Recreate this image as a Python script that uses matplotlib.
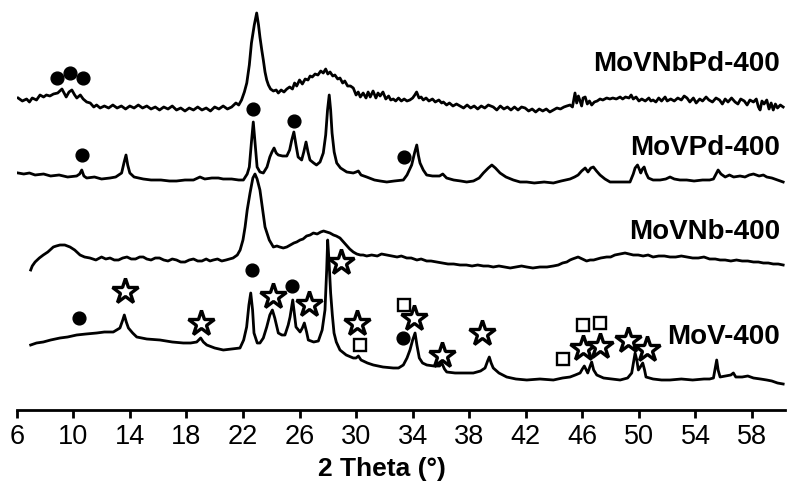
import matplotlib
matplotlib.use("Agg")
import matplotlib.pyplot as plt

# ---------------- data (2 theta in degrees, intensity in a.u.) ----------------
movnbpd_x = [6.1, 6.4, 6.7, 6.9, 7.1, 7.4, 7.65, 7.9, 8.1, 8.35, 8.6, 8.9, 9.2, 9.35, 9.5, 9.7, 9.9, 10.1,
             10.25, 10.5, 10.7, 10.95, 11.2, 11.45, 11.65, 11.9, 12.2, 12.5, 12.8, 13.1, 13.4, 13.7, 14.0,
             14.3, 14.6, 14.9, 15.2, 15.5, 15.8, 16.1, 16.4, 16.7, 17.0, 17.3, 17.6, 17.9, 18.2, 18.5,
             18.8, 19.1, 19.4, 19.7, 20.0, 20.3, 20.6, 20.9, 21.2, 21.5, 21.7, 21.9, 22.1, 22.27, 22.45,
             22.6, 22.8, 22.97, 23.1, 23.2, 23.33, 23.44, 23.56, 23.68, 23.8, 23.95, 24.15, 24.35, 24.5,
             24.7, 24.9, 25.1, 25.3, 25.5, 25.65, 25.8, 26.0, 26.2, 26.4, 26.6, 26.75, 26.9, 27.1, 27.3,
             27.5, 27.68, 27.85, 28.0, 28.16, 28.35, 28.5, 28.7, 28.86, 29.05, 29.2, 29.4, 29.6, 29.8,
             30.0, 30.15, 30.3, 30.5, 30.7, 30.85, 31.0, 31.2, 31.4, 31.55, 31.7, 31.9, 32.1, 32.3, 32.45,
             32.63, 32.8, 33.0, 33.2, 33.4, 33.6, 33.8, 34.0, 34.15, 34.28, 34.45, 34.6, 34.75, 34.95,
             35.15, 35.4, 35.6, 35.85, 36.05, 36.17, 36.4, 36.6, 36.85, 37.1, 37.35, 37.6, 37.85, 38.1,
             38.35, 38.6, 38.85, 39.1, 39.35, 39.7, 39.95, 40.2, 40.45, 40.7, 40.95, 41.2, 41.45, 41.7,
             41.95, 42.2, 42.45, 42.7, 42.95, 43.2, 43.45, 43.7, 43.95, 44.2, 44.45, 44.7, 44.9, 45.13,
             45.3, 45.48, 45.6, 45.72, 45.84, 45.95, 46.05, 46.2, 46.35, 46.5, 46.66, 46.85, 47.05, 47.25,
             47.45, 47.72, 47.95, 48.15, 48.4, 48.67, 48.85, 49.05, 49.3, 49.45, 49.6, 49.8, 50.0, 50.2,
             50.45, 50.7, 50.85, 51.0, 51.2, 51.4, 51.6, 51.85, 52.0, 52.25, 52.5, 52.75, 53.0, 53.2,
             53.4, 53.6, 53.85, 54.05, 54.3, 54.5, 54.75, 54.95, 55.2, 55.45, 55.7, 55.9, 56.1, 56.3,
             56.55, 56.8, 57.0, 57.2, 57.45, 57.65, 57.85, 58.1, 58.3, 58.45, 58.57, 58.7, 58.85, 59.04,
             59.2, 59.35, 59.5, 59.65, 59.8, 60.0, 60.2]
movnbpd_y = [312, 309, 311, 308, 312, 310, 315, 313, 315, 314, 316, 317, 321, 317, 313, 318, 320, 315,
             312, 315, 311, 308, 307, 303, 305, 302, 304, 302, 305, 302, 304, 301, 304,
             302, 305, 302, 304, 301, 303, 300, 303, 301, 304, 300, 302, 299, 302, 300,
             303, 300, 302, 299, 303, 301, 304, 301, 303, 307, 305, 310, 318, 327, 345,
             367, 385, 397, 385, 373, 360, 350, 338, 330, 325, 321, 319, 320, 317,
             320, 318, 321, 323, 321, 327, 324, 330, 326, 331, 330, 334, 333, 336, 335,
             339, 337, 341, 336, 338, 334, 335, 331, 332, 327, 329, 324, 324, 322,
             315, 318, 313, 317, 312, 318, 313, 319, 312, 317, 314, 318, 311, 314, 310,
             311, 309, 312, 309, 311, 309, 310, 312, 315, 318, 312, 313, 310, 312,
             309, 311, 308, 310, 307, 308, 305, 307, 304, 306, 304, 302, 305, 302,
             304, 301, 304, 302, 305, 303, 300, 304, 301, 303, 300, 303, 300, 303,
             302, 299, 301, 298, 301, 299, 301, 298, 300, 302, 301, 303, 304, 305,
             303, 317, 307, 314, 309, 304, 312, 313, 306, 309, 305, 308, 309, 311,
             310, 312, 311, 312, 311, 313, 311, 313, 312, 315, 311, 313, 309, 311,
             309, 312, 309, 310, 308, 312, 309, 313, 309, 311, 309, 312, 310, 314,
             312, 308, 312, 307, 311, 309, 313, 310, 308, 312, 310, 306, 311, 308,
             312, 308, 306, 311, 309, 305, 310, 308, 311, 303, 300, 309, 306, 310,
             301, 307, 300, 306, 302, 305, 303]

movpd_x = [6.1, 6.5, 6.9, 7.3, 7.9, 8.4, 9.0, 9.6, 10.24, 10.45, 10.6, 10.75, 10.95, 11.5, 12.0, 12.6,
           13.0, 13.42, 13.6, 13.73, 13.85, 14.0, 14.3, 14.95, 15.5, 16.2, 16.8, 17.3, 17.9, 18.5,
           18.96, 19.3, 19.8, 20.26, 20.6, 21.2, 21.7, 22.03, 22.3, 22.45, 22.6, 22.73, 22.85, 23.0,
           23.2, 23.44, 23.7, 23.9, 24.05, 24.2, 24.35, 24.5, 24.8, 25.1, 25.3, 25.45, 25.6, 25.75,
           25.9, 26.15, 26.3, 26.46, 26.6, 26.74, 27.0, 27.2, 27.45, 27.68, 27.85, 27.98, 28.1, 28.2,
           28.3, 28.45, 28.63, 28.9, 29.34, 29.8, 30.0, 30.16, 30.35, 30.75, 31.3, 31.7, 32.17, 32.7,
           33.34, 33.6, 33.93, 34.15, 34.29, 34.4, 34.52, 34.75, 34.99, 35.4, 35.9, 36.13, 36.4, 36.9,
           37.4, 37.82, 38.3, 38.7, 39.0, 39.35, 39.6, 39.85, 40.18, 40.6, 41.12, 41.6, 42.07, 42.6,
           43.3, 43.95, 44.5, 45.13, 45.45, 45.7, 45.95, 46.2, 46.4, 46.6, 46.78, 47.0, 47.25, 47.6,
           47.96, 48.6, 49.37, 49.6, 49.73, 49.9, 50.05, 50.13, 50.25, 50.37, 50.5, 50.67, 51.0, 51.5,
           51.9, 52.2, 52.5, 52.9, 53.38, 53.9, 54.5, 55.0, 55.27, 55.45, 55.6, 55.8, 56.1, 56.4, 56.7,
           57.15, 57.5, 57.8, 58.1, 58.5, 58.8, 59.04, 59.4, 59.8, 60.2]
movpd_y = [237, 236, 237, 235, 236, 234, 235, 233, 234, 236, 240, 234, 232, 233, 231, 232,
           233, 237, 248, 255, 245, 237, 233, 231, 230, 230, 229, 229, 230, 230,
           233, 231, 232, 232, 231, 231, 230, 230, 236, 243, 268, 288, 268, 243,
           238, 237, 243, 253, 258, 262, 257, 255, 254, 254, 260, 270, 278, 265,
           253, 250, 258, 268, 258, 250, 247, 245, 248, 257, 275, 300, 315, 300,
           277, 258, 247, 242, 238, 237, 238, 239, 235, 233, 230, 229, 228, 229,
           230, 235, 245, 258, 265, 255, 247, 240, 235, 234, 234, 236, 232, 230,
           229, 228, 229, 232, 237, 242, 245, 242, 237, 233, 230, 228, 228, 227,
           228, 227, 229, 231, 233, 235, 239, 242, 238, 242, 243, 239, 235, 231,
           228, 228, 228, 236, 242, 245, 240, 237, 241, 243, 237, 232, 230, 230,
           231, 233, 231, 230, 230, 229, 230, 230, 231, 236, 240, 236, 233, 235, 233,
           234, 233, 235, 236, 234, 235, 233, 232, 230, 228]

movnb_x = [6.99, 7.1, 7.3, 7.6, 7.88, 8.2, 8.59, 8.8, 9.06, 9.4, 9.77, 10.1, 10.48, 10.8, 11.18, 11.6,
           12.0, 12.3, 12.6, 12.9, 13.2, 13.5, 13.8, 14.1, 14.4, 14.7, 14.95, 15.2, 15.5, 15.8, 16.1,
           16.4, 16.7, 17.0, 17.3, 17.6, 17.9, 18.2, 18.5, 18.8, 19.1, 19.4, 19.67, 19.9, 20.2, 20.5,
           20.8, 21.05, 21.3, 21.6, 21.8, 22.0, 22.15, 22.3, 22.5, 22.7, 22.85, 23.0, 23.2, 23.44,
           23.56, 23.86, 24.15, 24.4, 24.6, 24.85, 25.1, 25.35, 25.6, 25.8, 26.04, 26.25, 26.5, 26.75,
           26.98, 27.25, 27.5, 27.7, 27.92, 28.15, 28.4, 28.6, 28.86, 29.05, 29.3, 29.55, 29.8, 30.05,
           30.3, 30.5, 30.75, 31.1, 31.5, 31.8, 32.17, 32.5, 32.9, 33.2, 33.58, 33.9, 34.3, 34.6,
           34.99, 35.3, 35.7, 36.1, 36.5, 36.9, 37.35, 37.8, 38.2, 38.6, 39.0, 39.35, 39.7, 40.1,
           40.5, 40.9, 41.3, 41.7, 42.07, 42.5, 43.0, 43.5, 43.95, 44.3, 44.6, 44.9, 45.13, 45.3,
           45.5, 45.7, 46.0, 46.3, 46.55, 46.8, 47.05, 47.3, 47.72, 48.0, 48.3, 48.65, 49.02, 49.3,
           49.6, 49.95, 50.3, 50.65, 51.0, 51.4, 51.8, 52.2, 52.6, 53.0, 53.38, 53.8, 54.2, 54.6,
           55.0, 55.4, 55.74, 56.1, 56.5, 56.9, 57.3, 57.7, 58.1, 58.45, 58.8, 59.15, 59.5, 59.85, 60.2]
movnb_y = [140, 144, 148, 152, 155, 158, 163, 164, 165, 165, 163, 160, 155, 153, 152, 150,
           153, 151, 152, 150, 150, 152, 153, 151, 151, 153, 153, 151, 150, 152, 152,
           150, 149, 151, 150, 148, 148, 150, 151, 149, 149, 151, 149, 150, 151, 149,
           150, 151, 152, 155, 160, 170, 183, 200, 217, 232, 236, 231, 220, 195,
           183, 170, 163, 164, 163, 162, 163, 165, 167, 168, 170, 171, 174, 175,
           177, 176, 178, 179, 178, 177, 175, 174, 172, 169, 165, 161, 158, 156,
           155, 155, 154, 155, 154, 156, 155, 154, 153, 154, 152, 152, 150, 151,
           149, 149, 148, 147, 146, 146, 145, 145, 144, 145, 144, 144, 143, 144,
           143, 142, 143, 144, 143, 142, 143, 143, 144, 145, 147, 148, 150, 151,
           152, 153, 151, 149, 150, 150, 151, 152, 153, 153, 155, 156, 157, 156,
           155, 155, 154, 155, 153, 154, 154, 153, 153, 154, 153, 152, 152, 153,
           151, 151, 150, 150, 149, 150, 149, 149, 148, 148, 147, 147, 146, 146, 145]

mov_x = [6.99, 7.4, 7.88, 8.4, 9.06, 9.6, 10.24, 10.9, 11.66, 12.2, 12.83, 13.3, 13.5, 13.61, 13.75,
         13.9, 14.2, 14.49, 15.2, 16.13, 17.0, 17.78, 18.3, 18.73, 19.01, 19.2, 19.44, 20.0, 20.61,
         21.2, 21.79, 22.05, 22.26, 22.42, 22.55, 22.68, 22.78, 23.01, 23.2, 23.44, 23.68, 23.9,
         24.08, 24.25, 24.5, 24.75, 24.97, 25.2, 25.33, 25.52, 25.65, 25.75, 26.04, 26.2, 26.34,
         26.5, 26.62, 27.0, 27.33, 27.6, 27.8, 27.92, 27.99, 28.08, 28.2, 28.32, 28.44, 28.6, 28.86,
         29.3, 29.8, 30.0, 30.16, 30.35, 30.8, 31.22, 31.9, 32.63, 33.0, 33.34, 33.6, 33.81, 34.0,
         34.17, 34.3, 34.47, 34.7, 35.0, 35.5, 35.9, 36.06, 36.25, 36.41, 37.0, 37.6, 38.29, 38.8,
         39.12, 39.3, 39.42, 39.55, 39.7, 40.1, 40.65, 41.3, 42.07, 43.0, 43.95, 44.6, 45.13, 45.5,
         45.84, 46.0, 46.14, 46.28, 46.38, 46.55, 46.66, 46.8, 47.02, 47.5, 48.1, 48.67, 49.2, 49.49,
         49.62, 49.73, 49.85, 49.96, 50.1, 50.27, 50.4, 50.5, 51.0, 51.6, 52.2, 53.0, 53.8, 54.6,
         55.0, 55.27, 55.4, 55.5, 55.6, 55.74, 56.1, 56.5, 56.68, 56.85, 57.3, 57.7, 58.1, 58.6,
         59.04, 59.4, 59.8, 60.2]
mov_y = [65, 67, 68, 70, 72, 73, 75, 76, 77, 78, 78, 82, 90, 95, 88,
         82, 77, 73, 71, 70, 68, 67, 67, 68, 72, 68, 65, 62, 60,
         61, 62, 70, 83, 105, 117, 100, 77, 67, 67, 72, 83, 95,
         100, 92, 77, 75, 75, 85, 93, 110, 95, 83, 78, 82, 87,
         78, 70, 68, 69, 80, 100, 140, 170, 150, 117, 95, 77, 68, 60,
         55, 52, 52, 54, 50, 47, 45, 43, 42, 42, 45, 52, 60, 70,
         77, 65, 52, 47, 45, 44, 44, 47, 41, 38, 37, 37, 37, 39,
         42, 49, 53, 47, 42, 37, 33, 31, 30, 31, 30, 32, 33, 35,
         37, 41, 44, 40, 37, 44, 48, 40, 35, 32, 31, 30, 32, 37,
         48, 57, 50, 40, 43, 47, 40, 33, 31, 30, 30, 31, 30, 31,
         31, 32, 42, 50, 40, 33, 34, 35, 37, 33, 33, 34, 32, 31,
         30, 29, 27, 26]

# phase markers (2 theta, height)
circle_x = [8.87, 9.77, 10.71, 10.59, 22.73, 25.63, 33.39, 10.41, 22.66, 25.49, 33.3]
circle_y = [332, 337, 332, 255, 301, 289, 253, 92, 140, 124, 72]
star_x = [13.66, 19.03, 24.1, 26.7, 28.93, 30.09, 34.1, 36.06, 38.89, 46.07, 47.25, 49.25, 50.55]
star_y = [119, 87, 114, 106, 148, 87, 92, 55, 77, 62, 64, 70, 61]
square_x = [30.28, 33.41, 44.66, 46.07, 47.25]
square_y = [65, 105, 51, 85, 87]

sample_labels = ["MoVNbPd-400", "MoVPd-400", "MoVNb-400", "MoV-400"]
label_heights = [346, 262, 178, 73]

tick_values = [6, 10, 14, 18, 22, 26, 30, 34, 38, 42, 46, 50, 54, 58]

# ---------------- plotting ----------------
fig = plt.figure(figsize=(7.92, 4.95), dpi=100)
ax = fig.add_axes([16.7 / 792, 85 / 495, (785 - 16.7) / 792, 410 / 495])

for xs, ys in [(movnbpd_x, movnbpd_y), (movpd_x, movpd_y), (movnb_x, movnb_y), (mov_x, mov_y)]:
    ax.plot(xs, ys, color="black", lw=2.0, solid_joinstyle="round")

ax.plot(circle_x, circle_y, ls="none", marker="o", ms=9.2, color="black")
ax.plot(star_x, star_y, ls="none", marker="*", ms=19, mfc="white", mec="black", mew=2.4)
ax.plot(square_x, square_y, ls="none", marker="s", ms=9, mfc="white", mec="black", mew=1.7)

label_font = ["Liberation Sans", "DejaVu Sans"]
for lab, h in zip(sample_labels, label_heights):
    ax.text(59.98, h, lab, ha="right", va="center", fontsize=20, fontweight="bold",
            family=label_font)

ax.set_xlim(6, 60.33)
ax.set_ylim(0, 410)
ax.set_yticks([])
for s in ["left", "right", "top"]:
    ax.spines[s].set_visible(False)
ax.spines["bottom"].set_linewidth(2.0)
ax.set_xticks(tick_values)
ax.set_xticklabels([str(v) for v in tick_values],
                   family=["Liberation Sans Narrow", "Liberation Sans", "DejaVu Sans"], fontsize=19.5)
ax.tick_params(axis="x", direction="out", length=6, width=2, pad=4)
ax.patch.set_alpha(0)

fig.text(382 / 792, 1 - 469 / 495, "2 Theta (°)", ha="center", va="center", fontsize=19,
         fontweight="bold", family=["Liberation Sans Narrow", "Liberation Sans", "DejaVu Sans"])

fig.savefig("out.png", dpi=100)
